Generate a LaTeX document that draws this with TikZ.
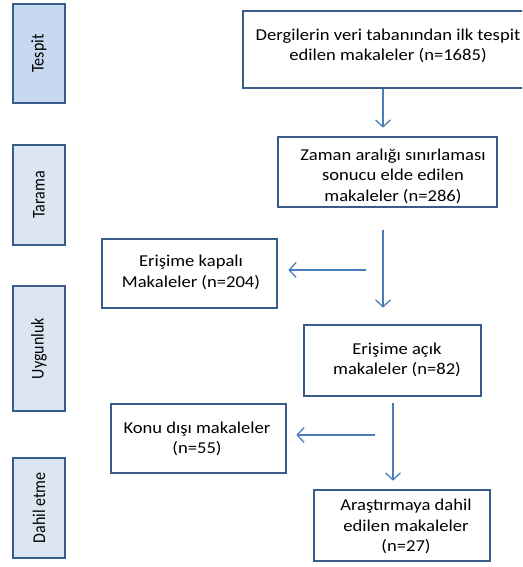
\documentclass[tikz,border=0pt]{standalone}
\usepackage{fontspec}
\usepackage{graphicx}
\setmainfont{Carlito}
\usetikzlibrary{arrows.meta}
\definecolor{bordc}{RGB}{56,93,138}
\definecolor{fillA}{RGB}{198,217,241}
\definecolor{fillB}{RGB}{220,230,242}
\definecolor{arrc}{RGB}{74,126,187}
\newcommand\tx[1]{\scalebox{1.12}[1]{\begin{tabular}{@{}c@{}}#1\end{tabular}}}
\newcommand\ty[1]{\scalebox{1}[1.12]{#1}}
\tikzset{
  boxc/.style={draw=bordc, line width=2.6pt, fill=white, inner sep=0pt, rectangle},
  phase/.style={draw=bordc, line width=2.6pt, fill=fillB, inner sep=0pt, rectangle, minimum width=52pt},
  phlabel/.style={rotate=90, inner sep=0pt, font=\fontsize{16}{19}\selectfont},
  txtc/.style={inner sep=0pt, font=\fontsize{16.6}{20.5}\selectfont},
  arr/.style={draw=arrc, line width=1.3pt, -{Straight Barb[length=7pt,width=15pt]}}
}
\begin{document}
\begin{tikzpicture}[x=1pt,y=-1pt]
\useasboundingbox (0,0) rectangle (522,567);
\clip (0,0) rectangle (522,567);
% phase column
\node[phase, fill=fillA, minimum height=99pt] (p1) at (39,53.5) {};
\node[phase, minimum height=100pt] (p2) at (39,195) {};
\node[phase, minimum height=125pt] (p3) at (39,348.5) {};
\node[phase, minimum height=100pt] (p4) at (39,508) {};
\node[phlabel] (l1) at (p1.center) {\ty{Tespit}};
\node[phlabel] (l2) at (p2.center) {\ty{Tarama}};
\node[phlabel] (l3) at (p3.center) {\ty{Uygunluk}};
\node[phlabel] (l4) at (p4.center) {\ty{Dahil etme}};
% boxes
\node[boxc, minimum width=290pt, minimum height=77pt] (b1) at (388,49.5) {};
\node[boxc, minimum width=219pt, minimum height=70pt] (b2) at (387.5,172) {};
\node[boxc, minimum width=175pt, minimum height=69pt] (b3) at (189.5,273.5) {};
\node[boxc, minimum width=177pt, minimum height=71pt] (b4) at (392.5,360.5) {};
\node[boxc, minimum width=175pt, minimum height=69pt] (b5) at (198.5,438.5) {};
\node[boxc, minimum width=176pt, minimum height=71pt] (b6) at (402,525.5) {};
% texts
\node[txtc] (t1) at (388,46.2) {\tx{Dergilerin veri tabanından ilk tespit\\edilen makaleler (n=1685)}};
\node[txtc] (t2) at (393,176.4) {\tx{Zaman aralığı sınırlaması\\sonucu elde edilen\\makaleler (n=286)}};
\node[txtc] (t3) at (191,273) {\tx{Erişime kapalı\\Makaleler (n=204)}};
\node[txtc] (t4) at (397,360.2) {\tx{Erişime açık\\makaleler (n=82)}};
\node[txtc] (t5) at (197,439.2) {\tx{Konu dışı makaleler\\(n=55)}};
\node[txtc] (t6) at (406,527) {\tx{Araştırmaya dahil\\edilen makaleler\\(n=27)}};
% connectors
\coordinate (s1) at (366,270);
\coordinate (s2) at (375,435);
\draw[arr] ([xshift=-5pt]b1.south) -- ([xshift=-4.5pt,yshift=8pt]b2.north);
\draw[arr] ([xshift=-4.5pt,yshift=-22pt]b2.south) -- ([xshift=-9.5pt,yshift=16pt]b4.north);
\draw[arr] (s1) -- ([xshift=10pt,yshift=3.5pt]b3.east);
\draw[arr] ([xshift=0.5pt,yshift=-6pt]b4.south) -- ([xshift=-9pt,yshift=8pt]b6.north);
\draw[arr] (s2) -- ([xshift=9pt,yshift=3.5pt]b5.east);
\end{tikzpicture}
\end{document}
